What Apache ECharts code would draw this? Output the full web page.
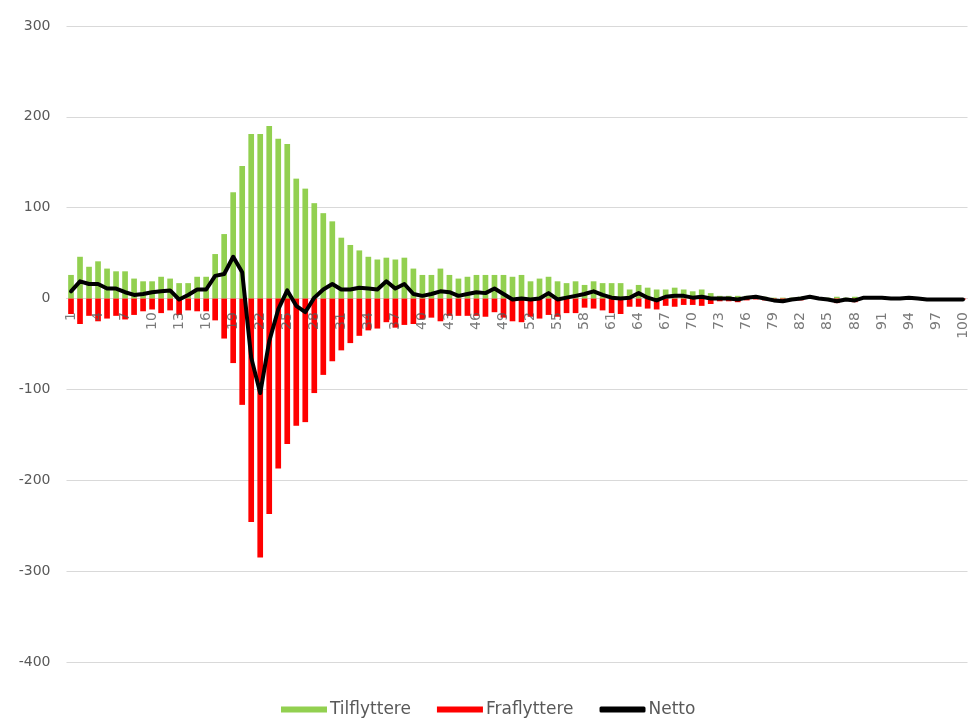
<!DOCTYPE html>
<html>
<head>
<meta charset="utf-8">
<script src="https://cdn.jsdelivr.net/npm/echarts@6/dist/echarts.min.js"></script>
<style>
html,body{margin:0;padding:0;background:#fff;}
#chart{width:969px;height:718px;}
</style>
</head>
<body>
<div id="chart"></div>
<script>
const categories = [];
for (let i = 1; i <= 100; i++) categories.push(String(i));

const tilflyttere = [26,46,35,41,33,30,30,22,19,19,24,22,17,17,24,24,49,71,117,146,
181,181,190,176,170,132,121,105,94,85,67,59,53,46,43,45,43,45,33,26,
26,33,26,22,24,26,26,26,26,24,26,19,22,24,19,17,19,15,19,17,
17,17,10,15,12,10,10,12,10,8,10,6,3,3,3,3,3,2,1,1,
1,2,2,1,1,2,1,2,1,1,1,1,0,1,0,0,0,0,0,0];

const fraflyttere = [-17,-28,-19,-25,-22,-19,-23,-18,-14,-12,-16,-13,-18,-13,-14,-14,-24,-44,-71,-117,
-246,-285,-237,-187,-160,-140,-136,-104,-84,-69,-57,-49,-41,-35,-33,-26,-32,-29,-28,-23,
-21,-25,-19,-19,-19,-19,-20,-15,-21,-25,-26,-20,-22,-18,-20,-16,-16,-10,-11,-13,
-16,-17,-9,-9,-11,-12,-8,-9,-7,-7,-8,-6,-3,-3,-4,-2,-1,-2,-3,-4,
-2,-2,0,-1,-2,-5,-2,-4,0,0,0,-1,0,0,0,-1,-1,-1,-1,-1];

const netto = [8,19,16,16,11,11,7,4,5,7,8,9,-1,4,10,10,25,27,46,29,
-65,-104,-47,-12,9,-8,-15,1,10,16,10,10,12,11,10,19,11,16,5,3,
5,8,7,3,5,7,6,11,5,-1,0,-1,0,6,-1,1,3,5,8,4,
1,0,1,6,1,-2,2,3,3,1,2,0,0,0,-1,1,2,0,-2,-3,
-1,0,2,0,-1,-3,-1,-2,1,1,1,0,0,1,0,-1,-1,-1,-1,-1];

const yMin = -400, yMax = 300, yStep = 100;
const labelEvery = 3;
const legendNames = ['Tilflyttere','Fraflyttere','Netto'];

// category tick labels drawn at the zero line, above the bars (as in the reference)
const tickLabelPoints = categories
  .map((c, i) => [c, 0])
  .filter((p, i) => i % labelEvery === 0);

const chart = echarts.init(document.getElementById('chart'), null, {renderer:'canvas'});
const font = '"DejaVu Sans", "Liberation Sans", sans-serif';
chart.setOption({
  animation: false,
  backgroundColor: '#ffffff',
  grid: {left: 66.5, right: 1.5, top: 26, bottom: 56, containLabel: false},
  legend: {
    data: [
      {name: legendNames[0], icon: 'rect'},
      {name: legendNames[1], icon: 'rect'},
      {name: legendNames[2], icon: 'roundRect'}
    ],
    top: 696,
    left: 276,
    itemWidth: 46,
    itemHeight: 6,
    itemGap: 26,
    textStyle: {color: '#595959', fontSize: 17, fontFamily: font, padding: [0,0,0,-2]}
  },
  xAxis: {
    type: 'category',
    data: categories,
    axisLine: {onZero: true, lineStyle: {color: '#d9d9d9', width: 1}},
    axisTick: {show: false},
    axisLabel: {show: false}
  },
  yAxis: {
    type: 'value',
    min: yMin, max: yMax, interval: yStep,
    axisLine: {show: false},
    axisTick: {show: false},
    splitLine: {lineStyle: {color: '#d9d9d9', width: 1}},
    axisLabel: {color: '#595959', fontSize: 14, fontFamily: font, margin: 16}
  },
  series: [
    {name: legendNames[0], type: 'bar', data: tilflyttere, barWidth: '63%', barGap: '-100%', z: 1, itemStyle: {color: '#92d050'}},
    {name: legendNames[1], type: 'bar', data: fraflyttere, barWidth: '63%', barGap: '-100%', z: 1, itemStyle: {color: '#ff0000'}},
    {name: 'ticklabels', type: 'scatter', data: tickLabelPoints, symbolSize: 1, silent: true, zlevel: 1, z: 10,
     itemStyle: {color: 'rgba(0,0,0,0)'},
     labelLayout: {hideOverlap: false},
     label: {show: true, position: 'bottom', distance: 13, rotate: 90, align: 'right', verticalAlign: 'middle',
             formatter: p => p.value[0], color: '#595959', fontSize: 14, fontFamily: font}},
    {name: legendNames[2], type: 'line', data: netto, showSymbol: false, symbol: 'none', zlevel: 2, z: 5,
     lineStyle: {color: '#000000', width: 4, join: 'round', cap: 'round'}, itemStyle: {color: '#000000'}}
  ]
});
</script>
</body>
</html>
